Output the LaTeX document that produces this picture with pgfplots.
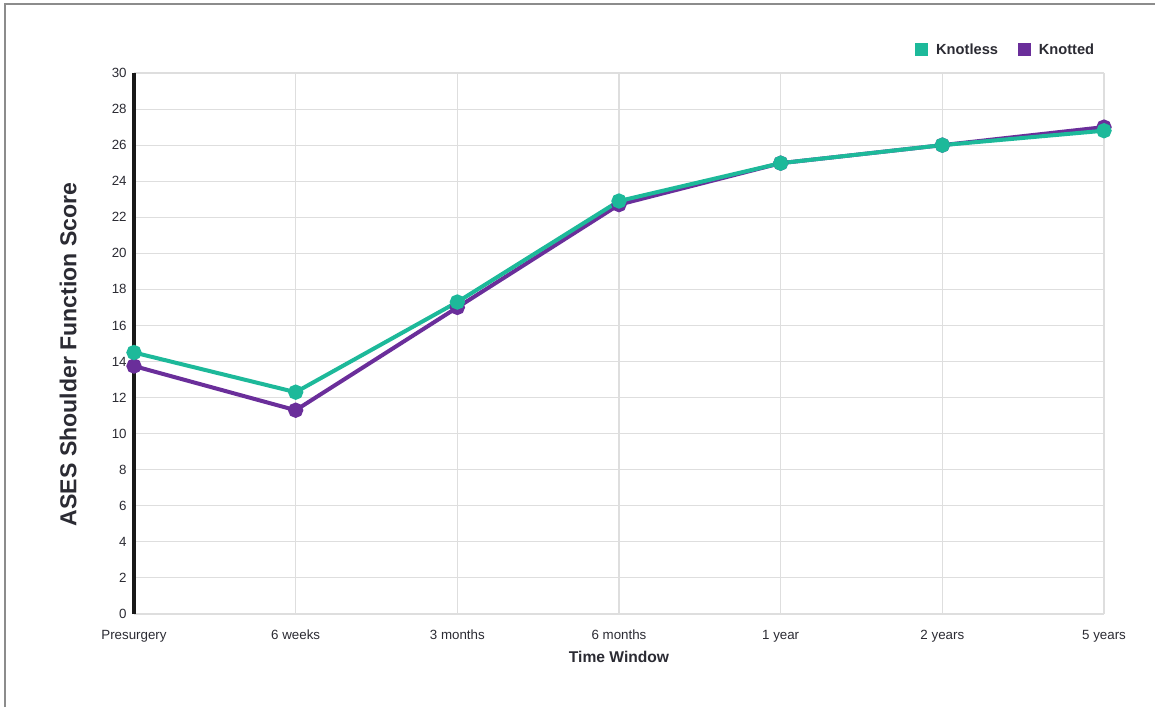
\documentclass[border=0pt]{standalone}
\usepackage{fontspec}
\setmainfont{Liberation Sans}
\usepackage{pgfplots}
\pgfplotsset{compat=1.18}
\definecolor{teal1}{HTML}{1DB99A}
\definecolor{purp}{HTML}{6A2E9A}
\definecolor{txt}{HTML}{2B2B33}
\begin{document}
\begin{tikzpicture}
\path[use as bounding box] (0pt,0pt) rectangle (866.25pt,530.25pt);
\fill[white] (0pt,0pt) rectangle (866.25pt,530.25pt);
\draw[black!45, line width=1.2pt] (3.75pt,0pt) -- (3.75pt,527.25pt) -- (866.25pt,527.25pt);
\begin{axis}[
  at={(100.5pt,69.75pt)}, anchor=south west,
  scale only axis, width=727.5pt, height=405.75pt,
  xmin=0, xmax=6, ymin=0, ymax=30,
  xtick={0,...,6},
  xticklabels={Presurgery,6 weeks,3 months,6 months,1 year,2 years,5 years},
  ytick={0,2,...,30},
  grid=major,
  major grid style={draw=black!13, line width=0.8pt},
  axis lines*=left,
  separate axis lines,
  x axis line style={draw=black!13, line width=0.8pt, -},
  y axis line style={draw=black!90, line width=2.3pt, -},
  major tick length=0pt,
  /pgf/number format/assume math mode=true,
  tick label style={font=\fontsize{10}{11}\selectfont, text=txt},
  yticklabel style={xshift=-2pt},
  xticklabel style={yshift=-8.5pt},
  xlabel={Time Window},
  ylabel={ASES Shoulder Function Score},
  xlabel style={font=\bfseries\fontsize{11.7}{13}\selectfont, text=txt, at={(axis description cs:0.5,-0.0795)}, anchor=center},
  ylabel style={font=\bfseries\fontsize{17.3}{20}\selectfont, text=txt, at={(axis description cs:-0.068,0.48)}, anchor=center, rotate=0},
  clip=false,
  legend columns=2,
  legend style={at={(axis description cs:0.997,1.043)}, anchor=east, draw=none, fill=none,
    font=\bfseries\fontsize{11}{12}\selectfont, text=txt,
    /tikz/every even column/.append style={column sep=13pt}},
  legend image code/.code={\fill[#1] (0pt,-4.8pt) rectangle (9.75pt,4.8pt); \path (13.5pt,0pt);},
]
\addlegendimage{fill=teal1, draw=none}
\addlegendentry{Knotless}
\addlegendimage{fill=purp, draw=none}
\addlegendentry{Knotted}
\addplot[purp, line width=3pt, mark=*, mark size=4.2pt, mark options={fill=purp, draw=none}, forget plot]
  coordinates {(0,13.75) (1,11.3) (2,17.0) (3,22.7) (4,25.0) (5,26.0) (6,27.0)};
\addplot[teal1, line width=3pt, mark=*, mark size=4.2pt, mark options={fill=teal1, draw=none}, forget plot]
  coordinates {(0,14.5) (1,12.3) (2,17.3) (3,22.9) (4,25.0) (5,26.0) (6,26.8)};
\end{axis}
\end{tikzpicture}
\end{document}
